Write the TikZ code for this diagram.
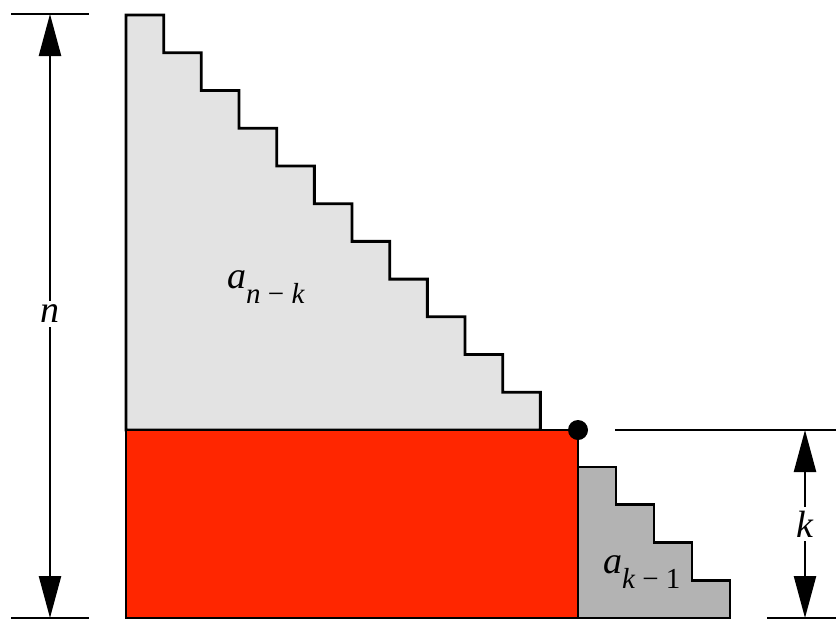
\documentclass[tikz,border=0pt]{standalone}
\usepackage{fontspec}
\setmainfont{Liberation Serif}
\usetikzlibrary{arrows.meta, positioning, calc}
\definecolor{lightfill}{HTML}{E3E3E3}
\definecolor{darkfill}{HTML}{B3B3B3}
\definecolor{blockred}{HTML}{FF2600}
\tikzset{
  outline/.style={draw=black, line width=2.8pt, line join=miter},
  dimline/.style={line width=2.4pt},
  dimarrow/.style={line width=2.4pt, {Triangle[length=42pt,width=22pt]}-{Triangle[length=42pt,width=22pt]}},
  biglabel/.style={inner sep=0pt, font=\fontsize{38}{38}\selectfont\itshape},
  gaplabel/.style={fill=white, inner sep=4pt, font=\fontsize{38}{38}\selectfont\itshape}
}
\newcommand{\sublabel}[2]{#1\raisebox{-15pt}{\fontsize{29}{29}\selectfont #2}}
\begin{document}
\begin{tikzpicture}[x=1pt, y=-1pt]
  \useasboundingbox (0,0) rectangle (836,619);
  % big staircase
  \draw[outline, fill=lightfill] (126,15)
    \foreach \i in {1,...,11} { -| ({126+\i*37.67},{15+\i*37.73}) }
    -- (126,430) -- cycle;
  % red block
  \draw[outline, fill=blockred] (126,430) rectangle (578,618);
  % small staircase
  \draw[outline, fill=darkfill] (578,467)
    \foreach \i in {1,...,4} { -| ({578+\i*38},{467+\i*37.75}) }
    -- (578,618) -- cycle;
  \node (corner) [circle, fill=black, inner sep=0pt, minimum size=20pt] at (578,430) {};
  % labels
  \node (bigpart) [biglabel, anchor=base west] at (227,288) {\sublabel{a}{n\upshape\ − \itshape k}};
  \node (smallpart) [biglabel, anchor=base west] at (603,573) {\sublabel{a}{k\upshape\ − 1}};
  % dimension n
  \coordinate (ntop) at (50,14);
  \coordinate (nbot) at (50,618);
  \draw[dimline] (11,14) -- (89,14);
  \draw[dimline] (11,618) -- (89,618);
  \draw[dimarrow] (ntop) -- (nbot) node (nlab) [gaplabel, midway, yshift=2pt] {n};
  % dimension k
  \coordinate (ktop) at (805,430);
  \coordinate (kbot) at (805,618);
  \draw[dimline] (615,430) -- (836,430);
  \draw[dimline] (767,618) -- (836,618);
  \draw[dimarrow] (ktop) -- (kbot) node (klab) [gaplabel, pos=0.5] {k};
\end{tikzpicture}
\end{document}
